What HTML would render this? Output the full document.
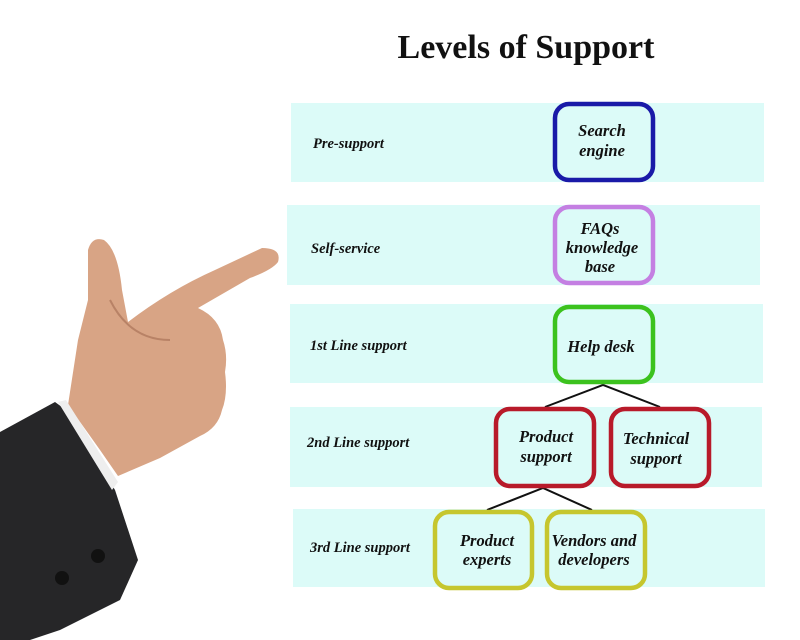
<!DOCTYPE html>
<html><head><meta charset="utf-8"><style>
html,body{margin:0;padding:0;background:#fff;width:800px;height:640px;overflow:hidden}
svg{display:block}
.lbl{font-family:"Liberation Serif",serif;font-weight:bold;font-style:italic;font-size:14.5px;fill:#111}
.nd{font-family:"Liberation Serif",serif;font-weight:bold;font-style:italic;font-size:16.5px;fill:#111;text-anchor:middle}
</style></head><body>
<svg width="800" height="640" viewBox="0 0 800 640" xmlns="http://www.w3.org/2000/svg">
<rect width="800" height="640" fill="#fff"/>
<text x="526" y="58" text-anchor="middle" font-family="Liberation Serif,serif" font-weight="bold" font-size="34" fill="#111">Levels of Support</text>
<g fill="#dcfbf8">
<rect x="291" y="103" width="473" height="79"/>
<rect x="287" y="205" width="473" height="80"/>
<rect x="290" y="304" width="473" height="79"/>
<rect x="290" y="407" width="472" height="80"/>
<rect x="293" y="509" width="472" height="78"/>
</g>
<text class="lbl" x="313" y="148">Pre-support</text>
<text class="lbl" x="311" y="253">Self-service</text>
<text class="lbl" x="310" y="350">1st Line support</text>
<text class="lbl" x="307" y="447">2nd Line support</text>
<text class="lbl" x="310" y="552">3rd Line support</text>
<g stroke="#111" stroke-width="2" fill="none">
<path d="M545 407 L603 385 L660 407"/>
<path d="M487 510 L543 488 L592 510"/>
</g>
<g fill="#dcfbf8" stroke-width="4.5">
<rect x="555" y="104" width="98" height="76" rx="14" stroke="#1a1aa8"/>
<rect x="555" y="207" width="98" height="76" rx="14" stroke="#c47fe2"/>
<rect x="555" y="307" width="98" height="75" rx="14" stroke="#3cc21e"/>
<rect x="496" y="409" width="98" height="77" rx="14" stroke="#b81a2a"/>
<rect x="611" y="409" width="98" height="77" rx="14" stroke="#b81a2a"/>
<rect x="435" y="512" width="97" height="76" rx="14" stroke="#c6c62e"/>
<rect x="547" y="512" width="98" height="76" rx="14" stroke="#c6c62e"/>
</g>
<text class="nd" x="602" y="136">Search</text>
<text class="nd" x="602" y="156">engine</text>
<text class="nd" x="600" y="234">FAQs</text>
<text class="nd" x="602" y="253">knowledge</text>
<text class="nd" x="600" y="272">base</text>
<text class="nd" x="601" y="352">Help desk</text>
<text class="nd" x="546" y="442">Product</text>
<text class="nd" x="546" y="462">support</text>
<text class="nd" x="656" y="444">Technical</text>
<text class="nd" x="656" y="464">support</text>
<text class="nd" x="487" y="546">Product</text>
<text class="nd" x="487" y="565">experts</text>
<text class="nd" x="594" y="546">Vendors and</text>
<text class="nd" x="594" y="565">developers</text>
<path d="M68 405 L78 340 L88 300 L88 250 Q92 236 104 240 Q118 250 122 290 L128 322 Q170 290 215 270 L262 248 Q282 248 278 262 Q272 270 250 278 L198 308 Q220 318 223 340 Q228 355 225 372 Q228 395 222 410 Q218 428 200 436 L160 458 L118 476 L100 450 Z" fill="#d8a485"/>
<path d="M110 300 Q130 340 170 340" stroke="#b88266" stroke-width="2" fill="none"/>
<path d="M0 432 L55 402 L66 410 L115 490 L138 560 L120 600 L60 630 L30 640 L0 640 Z" fill="#262628"/>
<path d="M58 402 L66 400 L118 482 L112 490 Z" fill="#eee"/>
<circle cx="98" cy="556" r="7" fill="#111"/>
<circle cx="62" cy="578" r="7" fill="#111"/>
</svg>
</body></html>
